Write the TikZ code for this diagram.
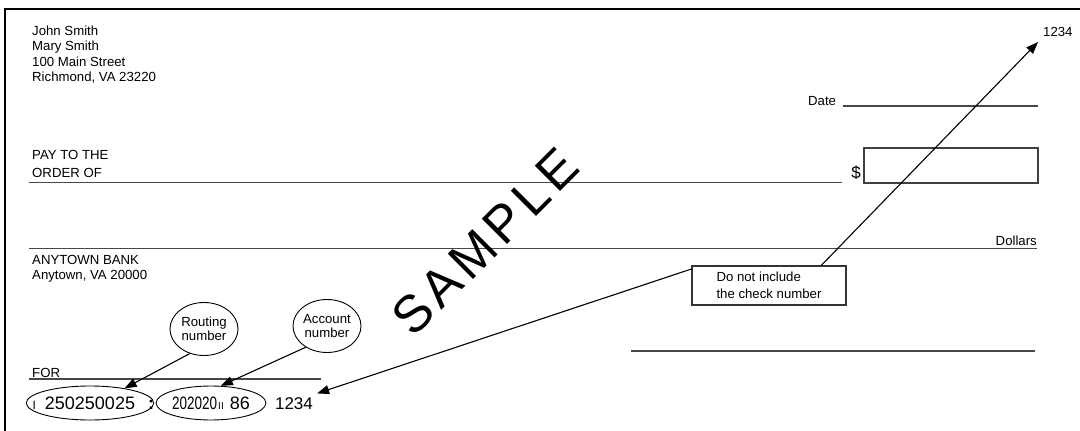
\documentclass[tikz,border=0pt]{standalone}
\usepackage{fontspec}
\setmainfont{Liberation Sans}
\usetikzlibrary{arrows.meta,shapes.geometric}

\newcommand\chk{\fontsize{13.2}{15.5}\selectfont}

\begin{document}
\begin{tikzpicture}[x=1pt, y=-1pt,
  txt/.style={inner sep=0pt, font=\chk, text=black},
  rule/.style={line width=1.7pt, black!72},
  bubble/.style={draw, ellipse, line width=0.9pt, minimum width=68pt, minimum height=53pt, inner sep=0pt, align=center, font=\fontsize{13.2}{14.5}\selectfont},
  micr/.style={draw, ellipse, line width=0.9pt, minimum width=110pt, minimum height=34pt, inner sep=0pt, font=\fontsize{18}{18}\selectfont},
  arr/.style={-{Triangle[length=12pt,width=9pt]}, line width=1.1pt}
]
\clip (0,0) rectangle (1080,431);

% cheque outline and writing lines
\draw[line width=1.4pt] (5,440) -- (5,9) -- (1090,9);
\draw[rule] (843,106) -- (1038,106);
\draw[rule] (29,182.5) -- (842,182.5);
\draw[rule] (29,248.5) -- (1037,248.5);
\draw[rule] (631,351) -- (1035,351);
\draw[rule] (29,379) -- (321,379);
\draw[line width=1.3pt, black!75] (864,148) rectangle (1038,183);

\node[txt, anchor=north west, align=left] (drawer) at (32,25.5) {John Smith\\Mary Smith\\100 Main Street\\Richmond, VA 23220};
\node[txt, anchor=base west] (checknum) at (1043,36.7) {1234};
\node[txt, anchor=base west] (date) at (808,105.7) {Date};
\node[txt, anchor=north west, align=left, font=\fontsize{13.2}{18}\selectfont] (payee) at (32,150.2) {PAY TO THE\\ORDER OF};
\node[txt, font=\fontsize{17}{17}\selectfont] (dollarsign) at (856,173) {\$};
\node[txt, anchor=base east] (dollars) at (1037,245.4) {Dollars};
\node[txt, anchor=north west, align=left, font=\fontsize{13.2}{15}\selectfont] (bank) at (32,255.2) {ANYTOWN BANK\\Anytown, VA 20000};
\node[txt, anchor=base west] (memo) at (32,377) {FOR};

\node[inner sep=0pt, rotate=45, font=\fontsize{52}{52}\selectfont] (watermark) at (485,242)
  {S\kern5.5pt A\kern5.5pt M\kern5.5pt P\kern5.5pt L\kern5.5pt E};

% MICR line
\node[txt, anchor=base west, font=\fontsize{12}{12}\selectfont] (transitmark) at (32.5,409.5) {I};
\node[micr] (routingnum) at (90,403) {250250025};
\node[txt, anchor=base, font=\bfseries\fontsize{18}{18}\selectfont] (transitcolon) at (151,409.5) {:};
\node[micr, minimum width=108pt] (accountnum) at (211,403)
  {\scalebox{0.75}[1]{202020}\kern1pt{\fontsize{10}{10}\selectfont II}\kern6pt 86};
\node[txt, anchor=base, font=\fontsize{17}{17}\selectfont] (micrcheck) at (294,409.5) {1234};

% callouts
\node[bubble] (routing) at (204,329) {Routing\\number};
\node[bubble] (account) at (327,326) {Account\\number};
\node[draw=black!80, line width=1.1pt, minimum width=154pt, minimum height=39pt, inner xsep=24.5pt,
  align=left, font=\fontsize{13.2}{17}\selectfont] (note) at (769,285.5) {Do not include\\the check number};

\draw[arr] (routing.240) -- (routingnum.23);
\draw[arr] (account.225) -- (accountnum.60);
\draw[arr] (note.168) -- ([xshift=4pt,yshift=4pt]micrcheck.north east);
\draw[arr] (note.21) -- ([xshift=-5pt,yshift=-5pt]checknum.south west);
\end{tikzpicture}
\end{document}
